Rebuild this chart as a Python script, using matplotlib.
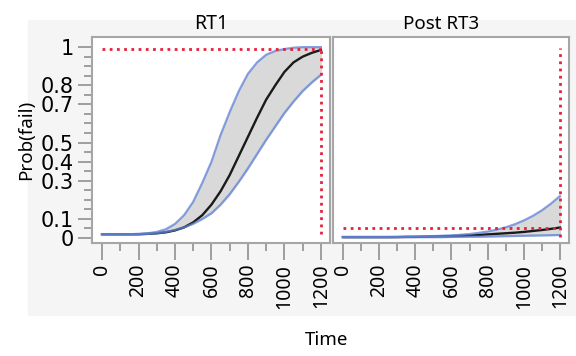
import matplotlib
matplotlib.use("Agg")
import matplotlib.pyplot as plt
from matplotlib import font_manager
from matplotlib.patches import Rectangle

# time grid (step 50)
time = [0, 50, 100, 150, 200, 250, 300, 350, 400, 450, 500, 550, 600,
        650, 700, 750, 800, 850, 900, 950, 1000, 1050, 1100, 1150, 1200]

rt1_mid = [0.02, 0.02, 0.02, 0.02, 0.02, 0.022, 0.025, 0.03, 0.04, 0.056, 0.082, 0.12, 0.175,
           0.245, 0.33, 0.43, 0.53, 0.63, 0.725, 0.80, 0.87, 0.92, 0.95, 0.97, 0.985]
rt1_hi = [0.02, 0.02, 0.02, 0.02, 0.022, 0.025, 0.032, 0.046, 0.074, 0.12, 0.19, 0.29, 0.40,
          0.54, 0.66, 0.77, 0.86, 0.92, 0.96, 0.98, 0.99, 0.997, 1.0, 1.0, 1.0]
rt1_lo = [0.02, 0.02, 0.02, 0.02, 0.02, 0.022, 0.025, 0.032, 0.042, 0.056, 0.075, 0.10, 0.13,
          0.175, 0.23, 0.295, 0.365, 0.44, 0.515, 0.585, 0.655, 0.715, 0.77, 0.815, 0.855]

rt3_mid = [0.005, 0.005, 0.005, 0.005, 0.005, 0.005, 0.005, 0.006, 0.006, 0.007, 0.008, 0.009, 0.01,
           0.012, 0.014, 0.016, 0.019, 0.022, 0.025, 0.028, 0.032, 0.037, 0.042, 0.048, 0.055]
rt3_hi = [0.005, 0.005, 0.005, 0.005, 0.005, 0.005, 0.006, 0.007, 0.008, 0.009, 0.01, 0.012, 0.014,
          0.017, 0.021, 0.027, 0.034, 0.044, 0.056, 0.072, 0.092, 0.116, 0.145, 0.18, 0.22]
rt3_lo = [0.005, 0.005, 0.005, 0.005, 0.005, 0.005, 0.005, 0.005, 0.005, 0.005, 0.005, 0.005, 0.006,
          0.006, 0.007, 0.007, 0.008, 0.009, 0.01, 0.011, 0.012, 0.013, 0.014, 0.015, 0.016]

# red reference lines at the chosen time
rt1_ref = (1200, 0.99, 0.02)
rt3_ref = (1200, 0.054, 0.005, 0.995)

ytick_vals = [0, 0.1, 0.3, 0.4, 0.5, 0.7, 0.8, 1]
ytick_labels = ["0", "0.1", "0.3", "0.4", "0.5", "0.7", "0.8", "1"]
xtick_vals = [0, 200, 400, 600, 800, 1000, 1200]

names = [f.name for f in font_manager.fontManager.ttflist]
narrow = "Liberation Sans Narrow" if "Liberation Sans Narrow" in names else "DejaVu Sans"

plt.rcParams['font.family'] = ['Noto Sans', 'DejaVu Sans']

fig = plt.figure(figsize=(5.76, 3.56), dpi=100)
fig.patches.append(Rectangle((28 / 576, 1 - 315 / 356), 1, (315 - 20) / 356,
                             transform=fig.transFigure, color='#f5f5f5', zorder=-10))

ax1 = fig.add_axes([92 / 576, 1 - 243 / 356, 238 / 576, 206 / 356])
ax2 = fig.add_axes([333 / 576, 1 - 243 / 356, 236 / 576, 206 / 356])

band_c = '#d9d9d9'
edge_c = '#5f82d8'
red = '#e8203a'


def draw(ax, mid, hi, lo):
    ax.fill_between(time, lo, hi, color=band_c, zorder=1)
    ax.plot(time, mid, color='#1a1a1a', lw=1.7, zorder=3)
    ax.plot(time, hi, color=edge_c, lw=1.6, alpha=0.75, zorder=4)
    ax.plot(time, lo, color=edge_c, lw=1.6, alpha=0.75, zorder=4)
    ax.set_xlim(-55, 1250)
    ax.set_ylim(-0.026, 1.053)
    ax.set_xticks(xtick_vals)
    ax.set_xticks(range(100, 1200, 200), minor=True)
    ax.tick_params(axis='x', which='major', length=12, width=1.2, color='#909090',
                   labelsize=14, labelrotation=90, pad=3)
    ax.tick_params(axis='x', which='minor', length=6, width=1.2, color='#909090')
    for s in ax.spines.values():
        s.set_color('#a6a6a6')
        s.set_linewidth(1.5)


draw(ax1, rt1_mid, rt1_hi, rt1_lo)
draw(ax2, rt3_mid, rt3_hi, rt3_lo)

dot = (0, (1, 1.6))
ax1.plot([0, rt1_ref[0]], [rt1_ref[1], rt1_ref[1]], color=red, lw=2, ls=dot, zorder=5)
ax1.plot([rt1_ref[0], rt1_ref[0]], [rt1_ref[2], rt1_ref[1]], color=red, lw=2, ls=dot, zorder=5)
ax2.plot([0, rt3_ref[0]], [rt3_ref[1], rt3_ref[1]], color=red, lw=2, ls=dot, zorder=5)
ax2.plot([rt3_ref[0], rt3_ref[0]], [rt3_ref[2], rt3_ref[3]], color=red, lw=2, ls=dot, zorder=5)

ax1.set_yticks(ytick_vals)
ax1.set_yticklabels(ytick_labels, family=[narrow, 'DejaVu Sans'], fontsize=15)
ax1.set_yticks([i * 0.05 for i in range(21)], minor=True)
ax1.tick_params(axis='y', which='major', length=10, width=1.2, color='#909090', pad=3)
ax1.tick_params(axis='y', which='minor', length=6, width=1.2, color='#909090')
ax2.set_yticks([])

ax1.set_title("RT1", fontsize=14, pad=6)
ax2.set_title("Post RT3", fontsize=13.5, pad=6, x=0.46)
ax1.set_ylabel("Prob(fail)", fontsize=13.5, labelpad=4)
fig.text(327 / 576, 1 - 340 / 356, "Time", fontsize=13.5, ha='center', va='center')

fig.savefig("out.png", dpi=100)
